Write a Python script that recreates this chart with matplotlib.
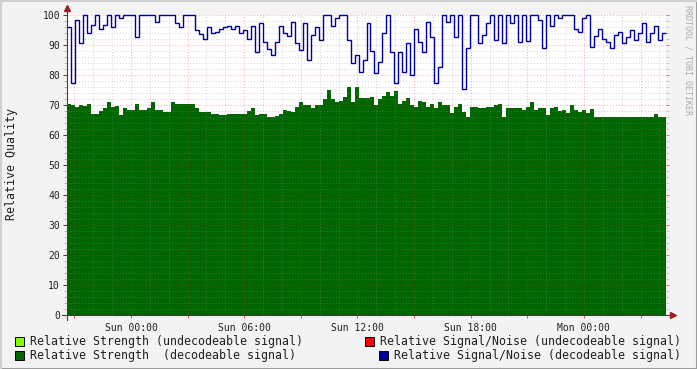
import matplotlib
matplotlib.use('Agg')
import numpy as np
import matplotlib.pyplot as plt
from matplotlib.lines import Line2D
from matplotlib.patches import Rectangle

plt.rcParams['font.family'] = 'DejaVu Sans Mono'

# relative strength (decodeable signal), one value per sample
strength = [
    70.5, 70, 69.5, 70, 69.8, 70.3, 67, 67, 68, 69,
    71, 69.5, 69.8, 66.6, 69, 68.3, 68.3, 70.3, 68.3, 68.3,
    69, 71, 68.3, 68.3, 67.8, 67.8, 71, 70.5, 70.5, 70.5,
    70.5, 70.3, 69, 67.8, 67.8, 67.8, 67, 67,
    66.7, 66.8, 67, 67, 67, 67, 67, 68, 69, 66.7,
    67, 67, 65.9, 65.9, 66.5, 67, 68.3, 68, 67.8, 69.4,
    71, 70, 70, 69, 70, 70, 71.9, 75, 72, 71.1,
    71.5, 72.8, 75.9, 71, 75.9, 72.5, 72.2, 72.5,
    72.6, 70, 72, 73, 74.4, 73, 74.7, 70.5, 71.5, 72.5,
    70, 69.5, 71.5, 71, 69.5, 70.5, 69, 71, 70, 70,
    67.5, 69.5, 70.3, 67.8, 66.1, 69.5, 69.5, 69, 69, 69.5,
    69.5, 70, 70.5, 66.1, 69, 69, 69, 69,
    68.5, 69.5, 71, 68.3, 69, 69, 66.7, 69, 69.5, 68,
    68.5, 67.5, 70, 68.3, 67.8, 68.5, 67.5, 68.8, 66.1, 66.1,
    66.1, 66.1, 66.1, 66.1, 66.1, 66.1, 66.1, 66.1, 66.1, 66.1,
    66.1, 66.1, 66.1, 67, 66.1, 66.1,
]

# relative signal/noise (decodeable signal)
snr = [
    96, 77.5, 98.3, 90.6, 100, 93.9, 96.7, 100, 95.5, 96.7,
    100, 96, 100, 98.9, 100, 100, 100, 92.8, 100, 100,
    100, 100, 97.8, 100, 100, 100, 100, 97.4, 96, 100,
    100, 100, 95, 93.7, 91.9, 96, 94.1, 94.5,
    95.5, 96, 96.5, 95.5, 96.5, 93.9, 95, 92, 96.5, 87.8,
    97.5, 91.1, 88.6, 86.7, 90.9, 96.5, 94, 93, 97.8, 90.6,
    88.3, 97.5, 85, 93.3, 96, 91.7, 100, 100, 96.3, 99,
    100, 100, 91.7, 83.9, 86.7, 81.1, 85, 97.5,
    88, 80.6, 84.4, 93.9, 100, 87.8, 77.2, 87.8, 81.1, 90.6,
    80, 95.5, 91, 87.8, 97.8, 92.8, 77.2, 82.8, 100, 97.8,
    100, 92.8, 100, 75.2, 88.9, 100, 100, 90.6, 93.3, 97.5,
    100, 91.7, 100, 90.6, 100, 97.2, 100, 91.1,
    100, 91.5, 100, 100, 98.5, 88.9, 100, 96.5, 100, 98.9,
    100, 100, 100, 95.5, 94.5, 99, 100, 89.4, 93, 95.5,
    92, 91.1, 88.9, 93.3, 94.5, 90.6, 92.8, 95, 91.7, 93.9,
    97.5, 91.1, 93.9, 96.3, 91.7, 93.9,
]

# time axis in hours relative to Sun 00:00
start_hour = -3.39
sample_hours = 0.2116
tick_hours = [-3, 0, 3, 6, 9, 12, 15, 18, 21, 24, 27]
tick_labels = ['', 'Sun 00:00', '', 'Sun 06:00', '', 'Sun 12:00', '',
               'Sun 18:00', '', 'Mon 00:00', '']

legend_labels = ['Relative Strength (undecodeable signal)',
                 'Relative Strength  (decodeable signal)',
                 'Relative Signal/Noise (undecodeable signal)',
                 'Relative Signal/Noise (decodeable signal)']
legend_colors = ['#80FF00', '#006600', '#FF0000', '#000099']

edges = start_hour + sample_hours * np.arange(len(strength) + 1)

W, H = 697, 369
fig = plt.figure(figsize=(W / 100, H / 100), dpi=100, facecolor='#F3F3F3')
ax = fig.add_axes([67 / W, 54 / H, 599 / W, 300 / H])
ax.set_facecolor('white')

ax.stairs(strength, edges, fill=True, color='#006600', zorder=1)
ax.stairs(snr, edges, baseline=None, color='#000099', linewidth=1.0,
          zorder=3, clip_on=False)

ax.set_xlim(edges[0], edges[-1])
ax.set_ylim(0, 100)
ax.set_yticks(np.arange(0, 101, 10))
ax.set_yticks(np.arange(0, 101, 2), minor=True)
ax.set_xticks(tick_hours)
ax.set_xticklabels(tick_labels)
ax.set_xticks(np.arange(-3, 29, 1), minor=True)

ax.set_axisbelow(False)
ax.grid(which='minor', color='#909090', alpha=0.4, linestyle=(0, (1, 2)), linewidth=0.7)
ax.grid(which='major', color='#E03030', alpha=0.4, linestyle=(0, (1, 2)), linewidth=0.7)

for sp in ax.spines.values():
    sp.set_visible(False)

ax.tick_params(axis='y', which='major', length=3, width=0.7, color='#404040',
               labelsize=7, labelcolor='#202020', pad=2)
ax.tick_params(axis='y', which='minor', length=2, width=0.6, color='#B0B0B0')
ax.tick_params(axis='x', which='major', length=2, width=0.7, color='#E05050',
               labelsize=7, labelcolor='#202020', pad=4)
ax.tick_params(axis='x', which='minor', length=0)

# small ticks on the right edge of the plot
right = ax.secondary_yaxis('right')
right.set_yticks(np.arange(0, 101, 10))
right.set_yticks(np.arange(0, 101, 2), minor=True)
right.tick_params(which='major', length=2, width=0.7, color='#E07070', labelright=False)
right.tick_params(which='minor', length=2, width=0.6, color='#C0C0C0')
right.spines['right'].set_visible(False)

# axis lines with arrows
ax.add_line(Line2D([0, 0], [-0.015, 1.02], transform=ax.transAxes,
                   color='#404040', linewidth=0.8, clip_on=False, zorder=4))
ax.add_line(Line2D([-0.008, 1.01], [0, 0], transform=ax.transAxes,
                   color='#404040', linewidth=0.8, clip_on=False, zorder=4))
ax.plot([0], [1.025], marker='^', markersize=4, color='#A02020',
        transform=ax.transAxes, clip_on=False, zorder=5)
ax.plot([1.012], [0], marker='>', markersize=4, color='#A02020',
        transform=ax.transAxes, clip_on=False, zorder=5)

fig.text(12 / W, 1 - 164 / H, 'Relative Quality', rotation=90,
         ha='center', va='center', fontsize=8.4, color='#202020')
fig.text(688 / W, 1 - 60 / H, 'RRDTOOL / TOBI OETIKER', rotation=270,
         ha='center', va='center', fontsize=6, color='#AAAAAA')

# legend
box_pos = [(15, 341), (15, 355), (365, 341), (379, 355)]
for (bx, by), lab, col in zip(box_pos, legend_labels, legend_colors):
    fig.patches.append(Rectangle((bx / W, 1 - (by + 4.5) / H), 9 / W, 9 / H,
                                 transform=fig.transFigure, facecolor=col,
                                 edgecolor='black', linewidth=0.7))
    fig.text((bx + 15) / W, 1 - by / H, lab, ha='left', va='center',
             fontsize=8.4, color='#202020')

# outer frame
fig.add_artist(Line2D([0, 1], [0.5 / H, 0.5 / H], transform=fig.transFigure,
                      color='#9C9C9C', linewidth=1.5))
fig.add_artist(Line2D([1 - 0.5 / W, 1 - 0.5 / W], [0, 1], transform=fig.transFigure,
                      color='#9C9C9C', linewidth=1.5))
fig.add_artist(Line2D([0, 1], [1 - 0.5 / H, 1 - 0.5 / H], transform=fig.transFigure,
                      color='#D0D0D0', linewidth=1.5))
fig.add_artist(Line2D([0.5 / W, 0.5 / W], [0, 1], transform=fig.transFigure,
                      color='#D0D0D0', linewidth=1.5))

fig.savefig('out.png', dpi=100, facecolor=fig.get_facecolor())
